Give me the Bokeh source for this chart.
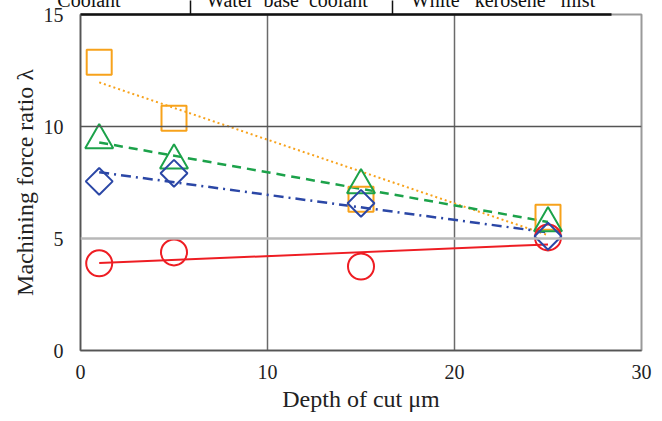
import numpy as np
from bokeh.plotting import figure
from bokeh.models import Span, FixedTicker, Range1d, LinearAxis
from bokeh.embed import file_html
from bokeh.resources import INLINE

# ---- data ----
depth = [1, 5, 15, 25]
ratio_orange = [12.87, 10.37, 6.75, 5.95]
ratio_green = [9.39, 8.49, 7.38, 5.68]
ratio_blue = [7.55, 7.91, 6.57, 5.10]
ratio_red = [3.89, 4.38, 3.75, 5.05]
x_ticks = [0, 10, 20, 30]
y_ticks = [0, 5, 10, 15]
header_texts = ["Coolant", "Water\u00a0 base\u00a0 coolant", "White\u00a0\u00a0 kerosene\u00a0\u00a0 mist"]
x_label = "Depth of cut \u03bcm"
y_label = "Machining force ratio \u03bb"

# header (cropped table row) layout, in pixels across the plot frame
header_centers = [89, 287, 503]
header_separators = [190.5, 392]

FONT = "Liberation Serif"
C_OR = "#F7A21B"
C_GR = "#1CA24A"
C_BL = "#2B47A6"
C_RD = "#EE1D23"

p = figure(width=660, height=456,
           x_range=Range1d(x_ticks[0], x_ticks[-1]),
           y_range=Range1d(y_ticks[0], y_ticks[-1]),
           output_backend="svg", toolbar_location=None,
           min_border_left=80, min_border_right=19,
           min_border_top=50, min_border_bottom=70)
p.margin = (-36, 0, 0, 0)
p.background_fill_color = "white"
p.border_fill_color = "white"
p.outline_line_color = "#9a9a9a"
p.outline_line_width = 2

# axes
p.xaxis.ticker = FixedTicker(ticks=x_ticks)
p.yaxis.ticker = FixedTicker(ticks=y_ticks)
for ax in (p.xaxis[0], p.yaxis[0]):
    ax.major_tick_line_color = None
    ax.major_tick_out = 0
    ax.major_tick_in = 0
    ax.minor_tick_line_color = None
    ax.minor_tick_out = 0
    ax.minor_tick_in = 0
    ax.axis_line_color = "#555555"
    ax.axis_line_width = 1.5
    ax.major_label_text_font = FONT
    ax.major_label_text_font_size = "20px"
    ax.major_label_text_color = "#222222"
p.xaxis.major_label_standoff = 14
p.yaxis.major_label_standoff = 17

p.xaxis.axis_label = x_label
p.xaxis.axis_label_text_font = FONT
p.xaxis.axis_label_text_font_size = "24px"
p.xaxis.axis_label_text_font_style = "normal"
p.xaxis.axis_label_text_color = "#222222"
p.xaxis.axis_label_standoff = 4
p.yaxis.axis_label = y_label
p.yaxis.axis_label_text_font = FONT
p.yaxis.axis_label_text_font_size = "24px"
p.yaxis.axis_label_text_font_style = "normal"
p.yaxis.axis_label_text_color = "#222222"
p.yaxis.axis_label_standoff = 3

# header row above the plot, as an axis with text labels
p.extra_x_ranges = {"px": Range1d(80.5, 641.5)}
top = LinearAxis(x_range_name="px",
                 ticker=FixedTicker(ticks=header_centers, minor_ticks=header_separators),
                 major_label_overrides={c: t for c, t in zip(header_centers, header_texts)},
                 bounds=(80.5, 611))
top.axis_line_color = "#111111"
top.axis_line_width = 2.5
top.major_tick_line_color = None
top.major_tick_out = 0
top.major_tick_in = 0
top.minor_tick_in = 0
top.minor_tick_out = 14
top.minor_tick_line_color = "#111111"
top.minor_tick_line_width = 1.5
top.major_label_standoff = -10
top.major_label_text_font = FONT
top.major_label_text_font_size = "20px"
top.major_label_text_color = "#111111"
p.add_layout(top, "above")

# grid
p.xgrid.ticker = FixedTicker(ticks=x_ticks[1:-1])
p.xgrid.grid_line_color = "#6a6a6a"
p.xgrid.grid_line_width = 1.5
p.ygrid.grid_line_color = None
p.add_layout(Span(location=y_ticks[1], dimension="width", line_color="#b8b8b8", line_width=2.5))
p.add_layout(Span(location=y_ticks[2], dimension="width", line_color="#555555", line_width=1.5))

# trend lines (least squares)
def trend(vals):
    coef = np.polyfit(depth, vals, 1)
    xs = [min(depth), max(depth)]
    return xs, list(np.polyval(coef, xs))

xs, ys = trend(ratio_orange)
p.line(xs, ys, line_color=C_OR, line_width=2, line_dash="2 3")
xs, ys = trend(ratio_green)
p.line(xs, ys, line_color=C_GR, line_width=2.5, line_dash="9 6")
xs, ys = trend(ratio_blue)
p.line(xs, ys, line_color=C_BL, line_width=2.5, line_dash="10 5 2 5")
xs, ys = trend(ratio_red)
p.line(xs, ys, line_color=C_RD, line_width=2)

# markers
p.scatter(depth, ratio_orange, marker="square", size=25, fill_color=None,
          line_color=C_OR, line_width=2)
p.scatter(depth, ratio_green, marker="triangle", size=28, fill_color=None,
          line_color=C_GR, line_width=2)
p.scatter(depth, ratio_red, marker="circle", size=26, fill_color=None,
          line_color=C_RD, line_width=2)
p.scatter(depth, ratio_blue, marker="square", angle=np.pi / 4, size=19, fill_color=None,
          line_color=C_BL, line_width=2)

open("out.html", "w").write(file_html(p, INLINE))
